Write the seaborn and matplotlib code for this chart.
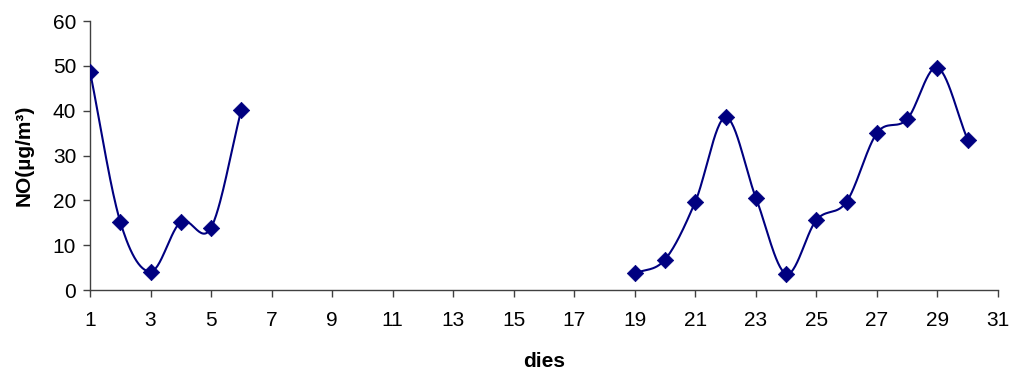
import numpy as np
import pandas as pd
import matplotlib
matplotlib.use("Agg")
import matplotlib.pyplot as plt
import seaborn as sns

# Data
days = [1, 2, 3, 4, 5, 6, 19, 20, 21, 22, 23, 24, 25, 26, 27, 28, 29, 30]
no_values = [48.7, 15.2, 4.1, 15.2, 13.9, 40.2,
             3.7, 6.8, 19.7, 38.5, 20.6, 3.6, 15.6, 19.7, 35.0, 38.1, 49.6, 33.5]
x_ticks = list(range(1, 32, 2))
y_ticks = [0, 10, 20, 30, 40, 50, 60]

sns.set_theme(style="white")
plt.rcParams['font.family'] = ['Liberation Sans', 'DejaVu Sans']
plt.rcParams['text.color'] = 'black'
plt.rcParams['axes.labelcolor'] = 'black'
plt.rcParams['xtick.color'] = 'black'
plt.rcParams['ytick.color'] = 'black'

df = pd.DataFrame({"dies": days, "NO": no_values})


def catmull_rom(x, y, n=30):
    """Smooth curve through the points (like Excel's smoothed line)."""
    pts = np.column_stack([x, y]).astype(float)
    if len(pts) < 2:
        return pts[:, 0], pts[:, 1]
    ext = np.vstack([pts[0] - (pts[1] - pts[0]), pts, pts[-1] + (pts[-1] - pts[-2])])
    out = []
    t = np.linspace(0, 1, n, endpoint=False)[:, None]
    for i in range(1, len(ext) - 2):
        p0, p1, p2, p3 = ext[i - 1], ext[i], ext[i + 1], ext[i + 2]
        seg = 0.5 * ((2 * p1) + (-p0 + p2) * t + (2 * p0 - 5 * p1 + 4 * p2 - p3) * t ** 2
                     + (-p0 + 3 * p1 - 3 * p2 + p3) * t ** 3)
        out.append(seg)
    out.append(ext[-2][None, :])
    arr = np.vstack(out)
    return arr[:, 0], arr[:, 1]


# split into contiguous runs
runs = []
cur = [0]
for i in range(1, len(days)):
    if days[i] - days[i - 1] == 1:
        cur.append(i)
    else:
        runs.append(cur)
        cur = [i]
runs.append(cur)

fig = plt.figure(figsize=(10.15, 3.76), dpi=100)
ax = fig.add_axes([0.0887, 0.2287, 0.8945, 0.7154])

color = "#000080"
for k, r in enumerate(runs):
    sx, sy = catmull_rom(df["dies"].values[r], df["NO"].values[r])
    seg = pd.DataFrame({"x": sx, "y": sy})
    sns.lineplot(data=seg, x="x", y="y", ax=ax, color=color, linewidth=1.5,
                 sort=False, estimator=None)

sns.scatterplot(data=df, x="dies", y="NO", ax=ax, marker="D", color=color,
                s=70, edgecolor=color, linewidth=0.5, zorder=5)

ax.set_xlim(1, 31)
ax.set_ylim(0, 60)
ax.set_xticks(x_ticks)
ax.set_yticks(y_ticks)
ax.tick_params(axis="both", which="major", labelsize=15, length=5, width=1,
               direction="out", color="#404040", labelcolor="black",
               bottom=True, left=True)
ax.tick_params(axis="x", pad=10)
ax.tick_params(axis="y", pad=5)
for s in ["top", "right"]:
    ax.spines[s].set_visible(False)
for s in ["left", "bottom"]:
    ax.spines[s].set_color("#404040")
    ax.spines[s].set_linewidth(1)
ax.grid(False)

ax.set_xlabel("dies", fontsize=15, fontweight="bold", color="black")
ax.set_ylabel("NO(µg/m³)", fontsize=15, fontweight="bold", color="black")
ax.xaxis.set_label_coords(0.5, -0.23)
ax.yaxis.set_label_coords(-0.062, 0.5)

fig.savefig("out.png", dpi=100)
